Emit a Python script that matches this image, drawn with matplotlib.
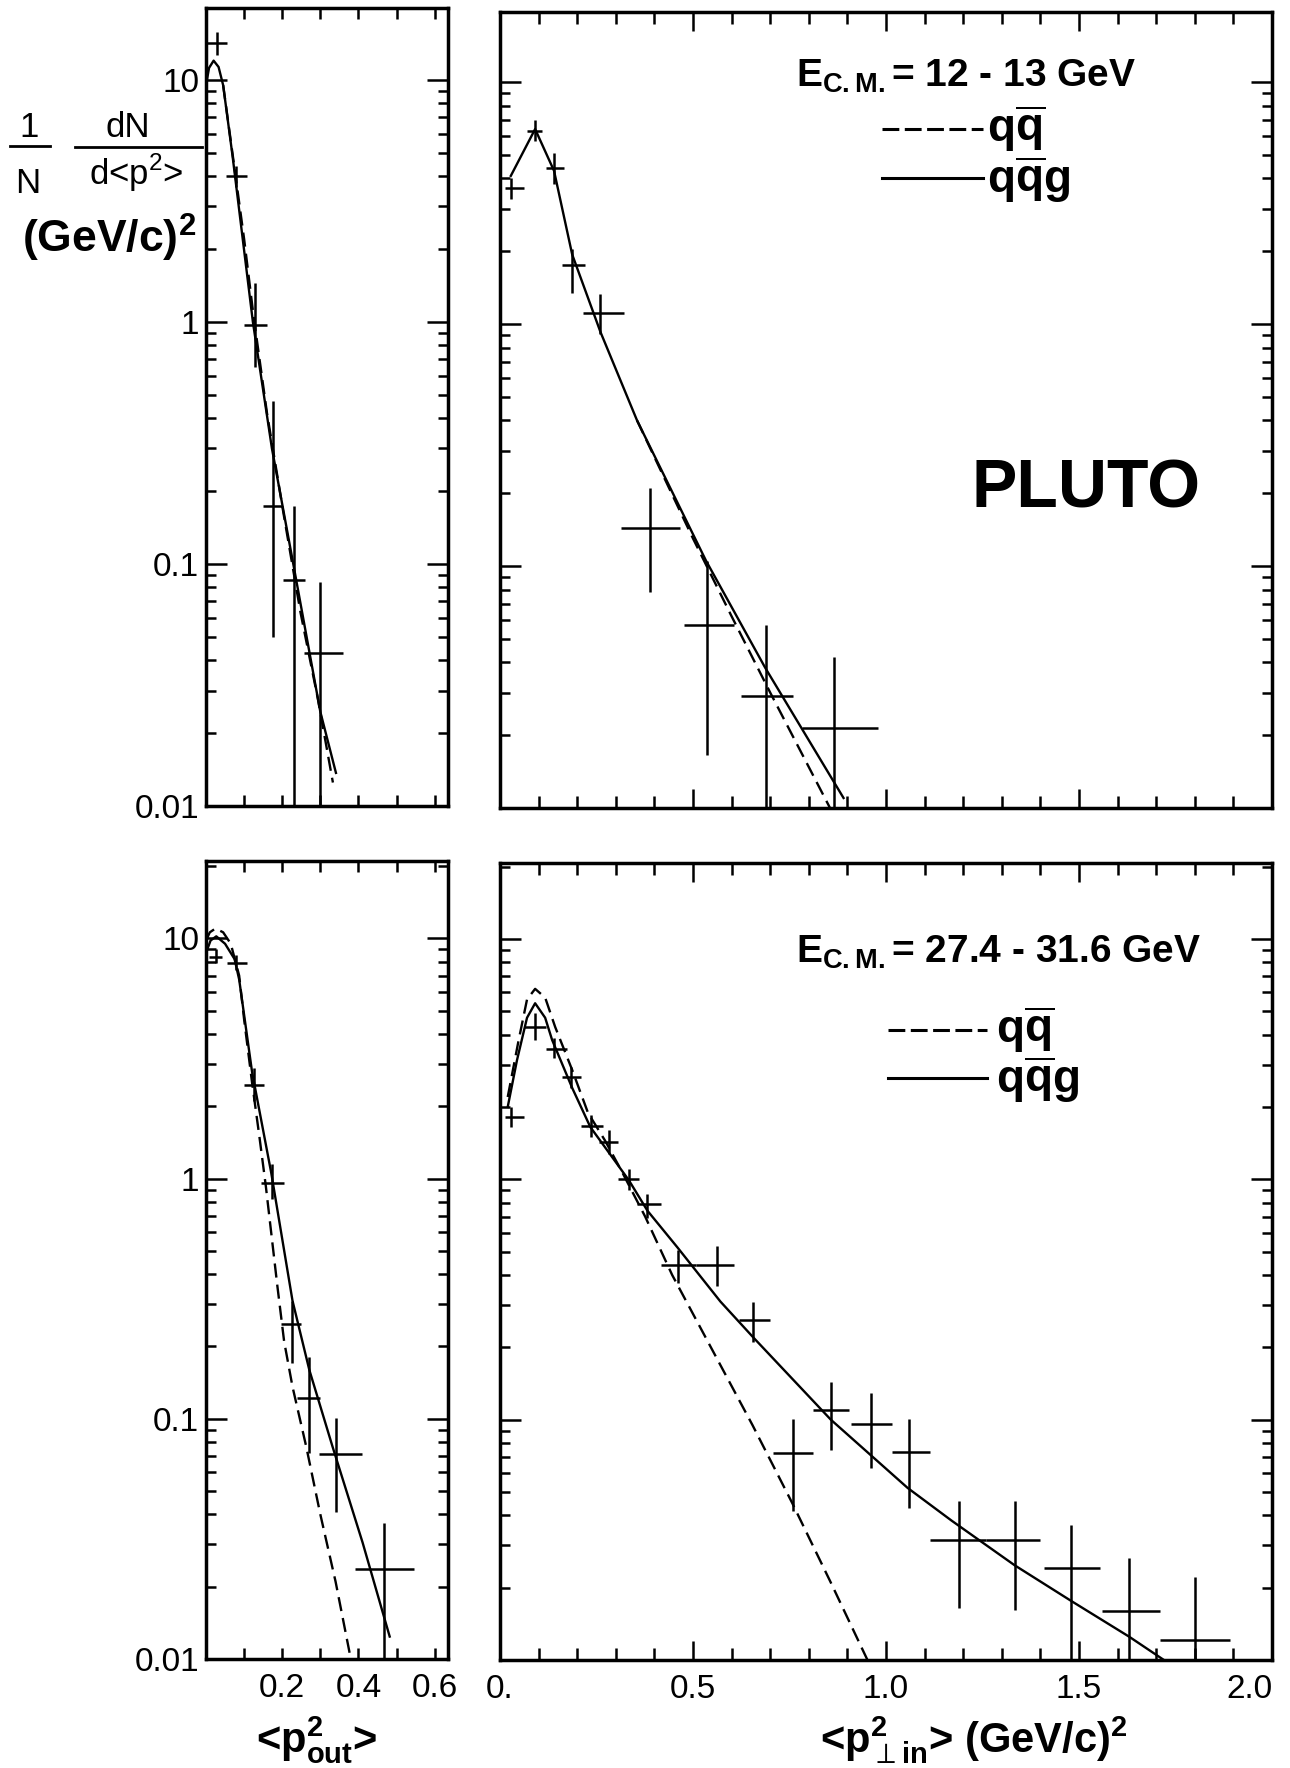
import numpy as np
import matplotlib
matplotlib.use("Agg")
import matplotlib.pyplot as plt
from matplotlib.lines import Line2D
from matplotlib.ticker import FixedLocator, LogLocator, NullFormatter

# ---- values ----
# top left: <p2_out>, E_cm 12-13 GeV
tl_x = [0.03, 0.08, 0.128, 0.176, 0.23, 0.30]
tl_y = [14.2, 4.0, 0.97, 0.174, 0.086, 0.043]
tl_xlo = [0.0, 0.053, 0.10, 0.15, 0.203, 0.256]
tl_xhi = [0.056, 0.107, 0.16, 0.20, 0.26, 0.36]
tl_ylo = [12.7, 3.6, 0.65, 0.05, 0.001, 0.001]
tl_yhi = [15.8, 4.4, 1.45, 0.47, 0.174, 0.084]
tl_qqg_x = [0.0, 0.008, 0.02, 0.033, 0.045, 0.07, 0.123, 0.173, 0.23, 0.30, 0.341]
tl_qqg_y = [9.5, 11.2, 12.0, 11.3, 9.5, 4.8, 1.0, 0.30, 0.098, 0.0245, 0.0137]
tl_qq_x = [0.045, 0.07, 0.10, 0.125, 0.16, 0.203, 0.248, 0.293, 0.333]
tl_qq_y = [9.5, 4.9, 2.2, 1.05, 0.42, 0.163, 0.063, 0.028, 0.0125]

# top right: <p2_perp,in>, E_cm 12-13 GeV
tr_x = [0.028, 0.091, 0.14, 0.187, 0.26, 0.389, 0.537, 0.69, 0.866]
tr_y = [3.65, 6.3, 4.4, 1.75, 1.11, 0.144, 0.057, 0.029, 0.0214]
tr_xlo = [0.013, 0.07, 0.12, 0.16, 0.215, 0.314, 0.477, 0.625, 0.783]
tr_xhi = [0.062, 0.11, 0.166, 0.22, 0.32, 0.467, 0.607, 0.76, 0.98]
tr_ylo = [3.3, 5.7, 3.8, 1.34, 0.91, 0.078, 0.0166, 0.001, 0.001]
tr_yhi = [4.0, 7.0, 5.1, 2.05, 1.33, 0.21, 0.105, 0.057, 0.042]
tr_qqg_x = [0.028, 0.091, 0.14, 0.187, 0.26, 0.355, 0.534, 0.687, 0.89]
tr_qqg_y = [4.1, 6.4, 4.3, 1.94, 0.93, 0.40, 0.105, 0.038, 0.011]
tr_qq_x = [0.355, 0.5, 0.6, 0.70, 0.855]
tr_qq_y = [0.40, 0.13, 0.062, 0.030, 0.01]

# bottom left: <p2_out>, E_cm 27.4-31.6 GeV
bl_x = [0.027, 0.08, 0.126, 0.173, 0.226, 0.271, 0.342, 0.466]
bl_y = [8.4, 7.9, 2.46, 0.96, 0.247, 0.122, 0.0714, 0.0237]
bl_xlo = [0.008, 0.056, 0.10, 0.145, 0.197, 0.24, 0.297, 0.392]
bl_xhi = [0.042, 0.108, 0.153, 0.205, 0.25, 0.30, 0.41, 0.547]
bl_ylo = [7.9, 7.4, 2.1, 0.82, 0.17, 0.072, 0.041, 0.001]
bl_yhi = [9.0, 8.5, 2.9, 1.15, 0.31, 0.18, 0.101, 0.037]
bl_qqg_x = [0.0, 0.012, 0.027, 0.05, 0.075, 0.087, 0.121, 0.171, 0.227, 0.271, 0.332, 0.411, 0.482]
bl_qqg_y = [8.7, 9.8, 10.2, 9.5, 8.2, 6.75, 2.77, 1.06, 0.31, 0.16, 0.0766, 0.0305, 0.0124]
bl_qq_x = [0.0, 0.01, 0.025, 0.045, 0.065, 0.087, 0.10, 0.121, 0.14, 0.157, 0.187, 0.205, 0.227,
           0.263, 0.30, 0.34, 0.38]
bl_qq_y = [9.8, 10.6, 11.0, 10.6, 9.5, 7.0, 4.6, 2.5, 1.5, 0.93, 0.36, 0.21, 0.136,
           0.0766, 0.040, 0.021, 0.01]

# bottom right: <p2_perp,in>, E_cm 27.4-31.6 GeV
br_x = [0.028, 0.091, 0.14, 0.185, 0.236, 0.283, 0.334, 0.382, 0.46, 0.562,
        0.656, 0.76, 0.858, 0.96, 1.06, 1.19, 1.335, 1.48, 1.63, 1.80]
br_y = [1.81, 4.3, 3.48, 2.66, 1.66, 1.43, 1.0, 0.79, 0.44, 0.44,
        0.261, 0.0729, 0.11, 0.096, 0.073, 0.0316, 0.0316, 0.0242, 0.016, 0.0121]
br_xlo = [0.014, 0.062, 0.12, 0.16, 0.209, 0.257, 0.306, 0.355, 0.418, 0.508,
          0.62, 0.708, 0.81, 0.91, 1.015, 1.115, 1.26, 1.41, 1.56, 1.71]
br_xhi = [0.062, 0.12, 0.174, 0.209, 0.268, 0.306, 0.361, 0.418, 0.508, 0.607,
          0.70, 0.81, 0.905, 1.015, 1.115, 1.26, 1.40, 1.555, 1.71, 1.89]
br_ylo = [1.65, 3.8, 3.2, 2.4, 1.5, 1.28, 0.9, 0.69, 0.37, 0.36,
          0.21, 0.0416, 0.075, 0.063, 0.043, 0.0164, 0.0162, 0.001, 0.001, 0.001]
br_yhi = [2.0, 4.9, 3.87, 2.93, 1.85, 1.6, 1.1, 0.87, 0.51, 0.53,
          0.31, 0.101, 0.143, 0.129, 0.101, 0.046, 0.046, 0.0364, 0.0266, 0.0222]
br_qqg_x = [0.02, 0.044, 0.07, 0.091, 0.117, 0.135, 0.187, 0.234, 0.272, 0.334, 0.382,
            0.46, 0.571, 0.656, 0.857, 1.056, 1.17, 1.333, 1.48, 1.63, 1.72]
br_qqg_y = [2.0, 3.13, 4.7, 5.4, 4.7, 3.8, 2.4, 1.65, 1.36, 0.99, 0.74,
            0.52, 0.31, 0.22, 0.1, 0.052, 0.038, 0.0248, 0.0176, 0.0125, 0.01]
br_qq_x = [0.02, 0.047, 0.07, 0.091, 0.117, 0.143, 0.187, 0.228, 0.272, 0.314, 0.376,
           0.446, 0.55, 0.654, 0.757, 0.857, 0.952]
br_qq_y = [2.2, 3.7, 5.6, 6.2, 5.7, 4.3, 2.85, 1.89, 1.45, 1.09, 0.70,
           0.40, 0.195, 0.095, 0.045, 0.021, 0.01]

y_decades = [0.01, 0.1, 1, 10]
y_decade_labels = ["0.01", "0.1", "1", "10"]
out_ticks = [0.1, 0.2, 0.3, 0.4, 0.5, 0.6]
out_labels = ["", "0.2", "", "0.4", "", "0.6"]
in_major = [0.0, 0.5, 1.0, 1.5, 2.0]
in_labels = ["0.", "0.5", "1.0", "1.5", "2.0"]
in_minor = [0.1, 0.2, 0.3, 0.4, 0.6, 0.7, 0.8, 0.9, 1.1, 1.2, 1.3, 1.4,
            1.6, 1.7, 1.8, 1.9]

plt.rcParams['font.family'] = ['Liberation Sans', 'DejaVu Sans']
plt.rcParams['mathtext.fontset'] = 'custom'
plt.rcParams['mathtext.rm'] = 'Liberation Sans'
plt.rcParams['mathtext.bf'] = 'Liberation Sans:bold'

W, H = 1290, 1768


def box(x0, y0, x1, y1):
    return [x0 / W, 1 - y1 / H, (x1 - x0) / W, (y1 - y0) / H]


def fx(x):
    return x / W


def fy(y):
    return 1 - y / H


def frame(ax, xlim, ylim, wide, ylab, xlab):
    ax.set_yscale('log')
    ax.set_xlim(*xlim)
    ax.set_ylim(*ylim)
    ax.yaxis.set_major_locator(FixedLocator(y_decades))
    ax.yaxis.set_minor_locator(LogLocator(base=10, subs=np.arange(2, 10), numticks=20))
    ax.yaxis.set_minor_formatter(NullFormatter())
    ax.set_yticklabels(y_decade_labels if ylab else [""] * 4)
    if wide:
        ax.xaxis.set_major_locator(FixedLocator(in_major))
        ax.xaxis.set_minor_locator(FixedLocator(in_minor))
        ax.set_xticklabels(in_labels if xlab else [""] * 5)
        ax.tick_params(axis='x', which='major', length=14)
        ax.tick_params(axis='x', which='minor', length=8.5)
        # last label sits inside the frame like in the original
        ax.get_xticklabels()[-1].set_horizontalalignment('right')
    else:
        ax.xaxis.set_major_locator(FixedLocator(out_ticks))
        ax.set_xticklabels(out_labels if xlab else [""] * 6)
        ax.tick_params(axis='x', which='major', length=8)
    ax.tick_params(axis='y', which='major', length=15)
    ax.tick_params(axis='y', which='minor', length=7)
    ax.tick_params(which='both', direction='in', top=True, right=True,
                   width=1.8, color='black', labelsize=24)
    ax.tick_params(axis='y', pad=5)
    ax.tick_params(axis='x', pad=10)
    for s in ax.spines.values():
        s.set_linewidth(2.5)


def draw(ax, x, y, xlo, xhi, ylo, yhi, qq_x, qq_y, qqg_x, qqg_y):
    x = np.array(x); y = np.array(y)
    ax.errorbar(x, y, xerr=[x - np.array(xlo), np.array(xhi) - x],
                yerr=[y - np.array(ylo), np.array(yhi) - y],
                fmt='none', ecolor='black', elinewidth=1.8, capsize=0)
    ax.plot(qqg_x, qqg_y, color='black', lw=1.7)
    ax.plot(qq_x, qq_y, color='black', lw=1.7, linestyle=(0, (6, 3)))


fig = plt.figure(figsize=(W / 100, H / 100), dpi=100)

ax_tl = fig.add_axes(box(206, 8, 448, 806))
ax_tr = fig.add_axes(box(500, 12, 1272, 808))
ax_bl = fig.add_axes(box(206, 861, 448, 1659))
ax_br = fig.add_axes(box(500, 863, 1272, 1660))

draw(ax_tl, tl_x, tl_y, tl_xlo, tl_xhi, tl_ylo, tl_yhi, tl_qq_x, tl_qq_y, tl_qqg_x, tl_qqg_y)
draw(ax_tr, tr_x, tr_y, tr_xlo, tr_xhi, tr_ylo, tr_yhi, tr_qq_x, tr_qq_y, tr_qqg_x, tr_qqg_y)
draw(ax_bl, bl_x, bl_y, bl_xlo, bl_xhi, bl_ylo, bl_yhi, bl_qq_x, bl_qq_y, bl_qqg_x, bl_qqg_y)
draw(ax_br, br_x, br_y, br_xlo, br_xhi, br_ylo, br_yhi, br_qq_x, br_qq_y, br_qqg_x, br_qqg_y)

frame(ax_tl, (0, 0.635), (0.01, 19.8), False, True, False)
frame(ax_tr, (0, 2.0), (0.01, 19.5), True, False, False)
frame(ax_bl, (0, 0.635), (0.01, 21.0), False, True, True)
frame(ax_br, (0, 2.0), (0.01, 20.7), True, False, True)


# legends drawn as in the original (line sample + text)
def legend_block(title, y_title, y_qq, y_qqg, x_line0, x_line1, x_txt):
    fig.text(fx(796), fy(y_title), title, fontsize=28, fontweight='bold',
             ha='left', va='baseline')
    fig.add_artist(Line2D([fx(x_line0), fx(x_line1)], [fy(y_qq - 13)] * 2,
                          color='black', lw=2.2, linestyle=(0, (5.5, 1.8))))
    fig.add_artist(Line2D([fx(x_line0), fx(x_line1)], [fy(y_qqg - 15)] * 2,
                          color='black', lw=2.2))
    fig.text(fx(x_txt), fy(y_qq), r'q$\overline{\mathbf{q}}$', fontsize=33,
             fontweight='bold', ha='left', va='baseline')
    fig.text(fx(x_txt), fy(y_qqg), r'q$\overline{\mathbf{q}}$g', fontsize=33,
             fontweight='bold', ha='left', va='baseline')


legend_block(r'E$_{\mathbf{C.M.}}$= 12 - 13 GeV', 87, 142, 193, 882, 983, 987)
legend_block(r'E$_{\mathbf{C.M.}}$= 27.4 - 31.6 GeV', 963, 1043, 1093, 888, 987, 996)

fig.text(fx(972), fy(508), 'PLUTO', fontsize=49, fontweight='bold',
         ha='left', va='baseline')

# y axis label: 1/N dN/d<p2>  (GeV/c)^2
fig.text(fx(29), fy(137), '1', fontsize=25, ha='center', va='baseline')
fig.add_artist(Line2D([fx(10), fx(50)], [fy(146)] * 2, color='black', lw=2.0))
fig.text(fx(28), fy(193), 'N', fontsize=25, ha='center', va='baseline')
fig.text(fx(128), fy(137), 'dN', fontsize=25, ha='center', va='baseline')
fig.add_artist(Line2D([fx(75), fx(202)], [fy(147)] * 2, color='black', lw=2.0))
fig.text(fx(136), fy(185), r'd<p$^{\mathrm{2}}$>', fontsize=25, ha='center', va='baseline')
fig.text(fx(22), fy(253), r'(GeV/c)$^{\mathbf{2}}$', fontsize=32, fontweight='bold',
         ha='left', va='baseline')

# x axis labels
fig.text(fx(317), fy(1752), r'<p$^{\mathbf{2}}_{\mathbf{out}}$>', fontsize=30,
         fontweight='bold', ha='center', va='baseline')
fig.text(fx(974), fy(1752), r'<p$^{\mathbf{2}}_{\perp\mathbf{in}}$> (GeV/c)$^{\mathbf{2}}$',
         fontsize=30, fontweight='bold', ha='center', va='baseline')

fig.savefig("out.png", dpi=100)
